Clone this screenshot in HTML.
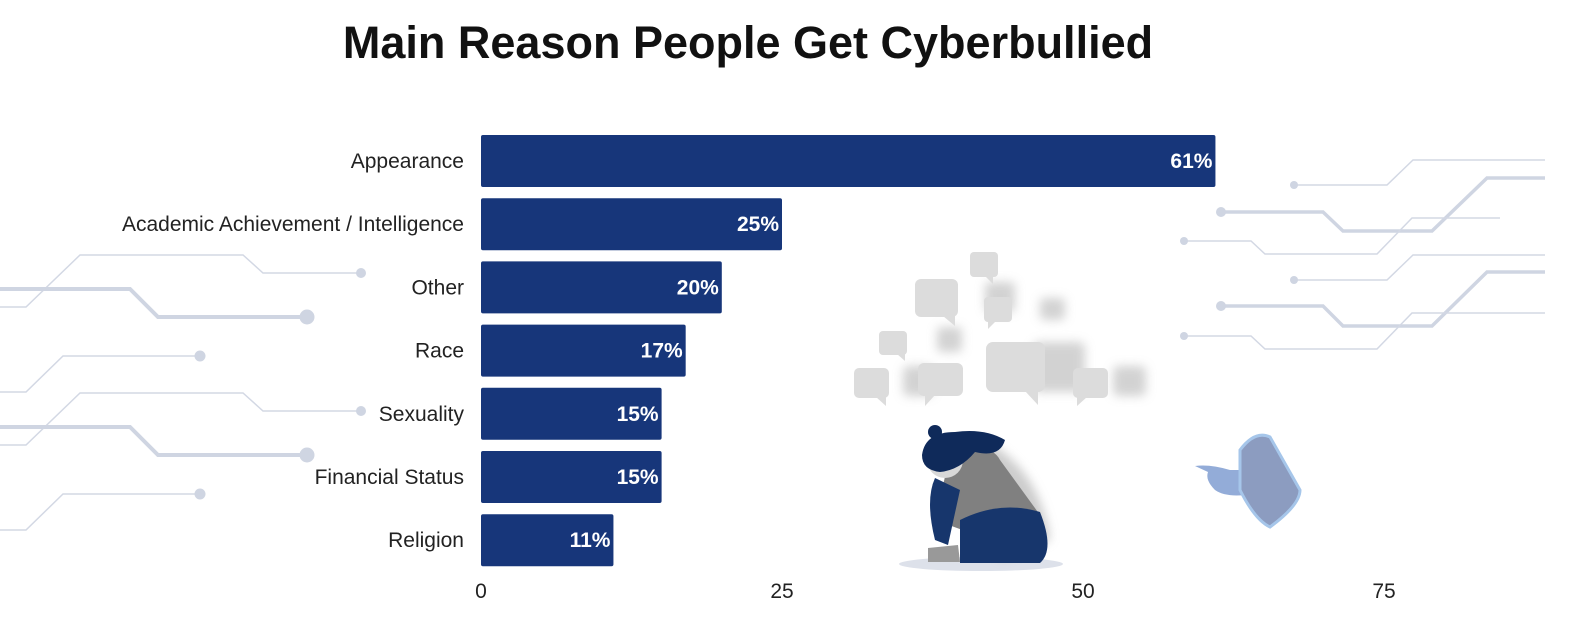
<!DOCTYPE html>
<html><head><meta charset="utf-8"><style>
body{margin:0;background:#fff;width:1590px;height:621px;overflow:hidden;font-family:"Liberation Sans",sans-serif}
</style></head><body>
<svg id="chart" width="1590" height="621" viewBox="0 0 1590 621" xmlns="http://www.w3.org/2000/svg">
<defs><filter id="bl" x="-50%" y="-50%" width="200%" height="200%"><feGaussianBlur stdDeviation="5"/></filter></defs>
<text x="748" y="58" text-anchor="middle" font-size="45" font-weight="bold" fill="#111">Main Reason People Get Cyberbullied</text>
<g fill="none" stroke="#d3d8e4" stroke-width="1.5">
<polyline points="0,307 26,307 80,255 243,255 263,273 361,273"/>
<polyline points="0,289 130,289 158,317 307,317" stroke-width="4" stroke="#cfd5e2"/>
<polyline points="0,392 26,392 63,356 200,356"/>
<polyline points="0,445 26,445 80,393 243,393 263,411 361,411"/>
<polyline points="0,427 130,427 158,455 307,455" stroke-width="4" stroke="#cfd5e2"/>
<polyline points="0,530 26,530 63,494 200,494"/>
</g>
<g fill="#cfd5e2">
<circle cx="361" cy="273" r="5"/><circle cx="307" cy="317" r="7.5"/><circle cx="200" cy="356" r="5.5"/>
<circle cx="361" cy="411" r="5"/><circle cx="307" cy="455" r="7.5"/><circle cx="200" cy="494" r="5.5"/>
</g>
<g fill="none" stroke="#d3d8e4" stroke-width="1.5">
<polyline points="1294,185 1387,185 1413,160 1545,160"/>
<polyline points="1221,212 1323,212 1343,231 1432,231 1487,178 1545,178" stroke-width="3.5" stroke="#cfd5e2"/>
<polyline points="1184,241 1251,241 1265,254 1377,254 1412,218 1500,218"/>
<polyline points="1294,280 1387,280 1413,255 1545,255"/>
<polyline points="1221,306 1323,306 1343,326 1432,326 1487,272 1545,272" stroke-width="3.5" stroke="#cfd5e2"/>
<polyline points="1184,336 1251,336 1265,349 1377,349 1412,313 1545,313"/>
</g>
<g fill="#cfd5e2">
<circle cx="1294" cy="185" r="4"/><circle cx="1221" cy="212" r="5"/><circle cx="1184" cy="241" r="4"/>
<circle cx="1294" cy="280" r="4"/><circle cx="1221" cy="306" r="5"/><circle cx="1184" cy="336" r="4"/>
</g>
<g>
<g fill="#c8c8c8" filter="url(#bl)" opacity="0.8">
<rect x="903" y="366" width="30" height="30" rx="5"/><rect x="1033" y="342" width="52" height="50" rx="6"/>
<rect x="1113" y="366" width="33" height="30" rx="5"/><rect x="937" y="327" width="25" height="25" rx="4"/>
<rect x="1040" y="298" width="25" height="22" rx="4"/><rect x="985" y="282" width="30" height="30" rx="4"/>
</g>
<g fill="#dcdcdc">
<rect x="915" y="279" width="43" height="38" rx="6"/><path d="M943,316 L955,326 L955,316Z"/>
<rect x="970" y="252" width="28" height="25" rx="4"/><path d="M985,276 L993,284 L993,276Z"/>
<rect x="984" y="297" width="28" height="25" rx="4"/><path d="M988,321 L988,329 L996,321Z"/>
<rect x="879" y="331" width="28" height="24" rx="4"/><path d="M897,354 L905,361 L905,354Z"/>
<rect x="854" y="368" width="35" height="30" rx="5"/><path d="M876,397 L886,406 L886,397Z"/>
<rect x="918" y="363" width="45" height="33" rx="6"/><path d="M925,395 L925,406 L935,395Z"/>
<rect x="986" y="342" width="59" height="50" rx="7"/><path d="M1025,391 L1038,405 L1038,391Z"/>
<rect x="1073" y="368" width="35" height="30" rx="5"/><path d="M1077,397 L1077,406 L1087,397Z"/>
</g>
</g>
<g>
<ellipse cx="981" cy="564" rx="82" ry="7" fill="#dde1ea"/>
<path d="M985,440 Q1040,470 1050,540 L1000,560 Z" fill="#aaa" filter="url(#bl)" opacity="0.6"/>
<path d="M950,455 Q990,440 1000,460 L1040,515 L990,540 L935,520 Z" fill="#808080"/>
<path d="M935,478 Q925,500 935,540 L948,545 L960,490 Z" fill="#17366c"/>
<path d="M960,520 Q1000,500 1040,512 Q1055,550 1040,563 L960,563 Z" fill="#17366c"/>
<path d="M928,548 L958,545 L960,562 L928,562 Z" fill="#999"/>
<circle cx="945" cy="460" r="18" fill="#d8d8d8"/>
<path d="M922,455 Q925,432 955,432 Q985,428 1005,440 Q1000,458 975,452 Q960,470 940,472 Q922,470 922,455Z" fill="#0f2a5a"/>
<circle cx="935" cy="432" r="7" fill="#0f2a5a"/>
</g>
<g>
<path d="M1195,466 Q1210,464 1230,470 L1245,470 L1245,495 Q1225,497 1215,490 Q1205,480 1208,472 Z" fill="#93acd8"/>
<path d="M1240,450 Q1255,430 1270,437 L1300,490 Q1300,505 1270,527 Q1255,520 1240,490 Z" fill="#8c9cc0" stroke="#a6c6ea" stroke-width="3"/>
</g>
<g id="axis"></g>
<g id="bars"></g>
</svg>
<script>
const categories=["Appearance","Academic Achievement / Intelligence","Other","Race","Sexuality","Financial Status","Religion"];
const values=[61,25,20,17,15,15,11];
const ticks=[0,25,50,75];
const NS="http://www.w3.org/2000/svg";
const x0=481, scale=(1384-481)/75;
const xs=v=>x0+v*scale;
const rowTop=i=>135+i*63.2;
const barH=52;
const bars=document.getElementById('bars'), axis=document.getElementById('axis');
function mk(t,a){const e=document.createElementNS(NS,t);for(const k in a)e.setAttribute(k,a[k]);return e;}
categories.forEach((c,i)=>{
  const y=rowTop(i);
  const r=mk('rect',{x:x0,y:y,width:xs(values[i])-x0,height:barH,rx:2,fill:'#17367a'});
  
  
  bars.appendChild(r);
  const l=mk('text',{x:464,y:y+barH/2+7,'text-anchor':'end','font-size':21,fill:'#222'});
  
  
  l.textContent=c;bars.appendChild(l);
  const v=mk('text',{x:xs(values[i])-3,y:y+barH/2+7,'text-anchor':'end','font-size':21,'font-weight':'bold',fill:'#fff'});
  
  
  v.textContent=values[i]+'%';bars.appendChild(v);
});
ticks.forEach(t=>{
  const e=mk('text',{x:xs(t),y:598,'text-anchor':'middle','font-size':21,fill:'#222'});
  
  
  e.textContent=t;axis.appendChild(e);
});
</script>
</body></html>
